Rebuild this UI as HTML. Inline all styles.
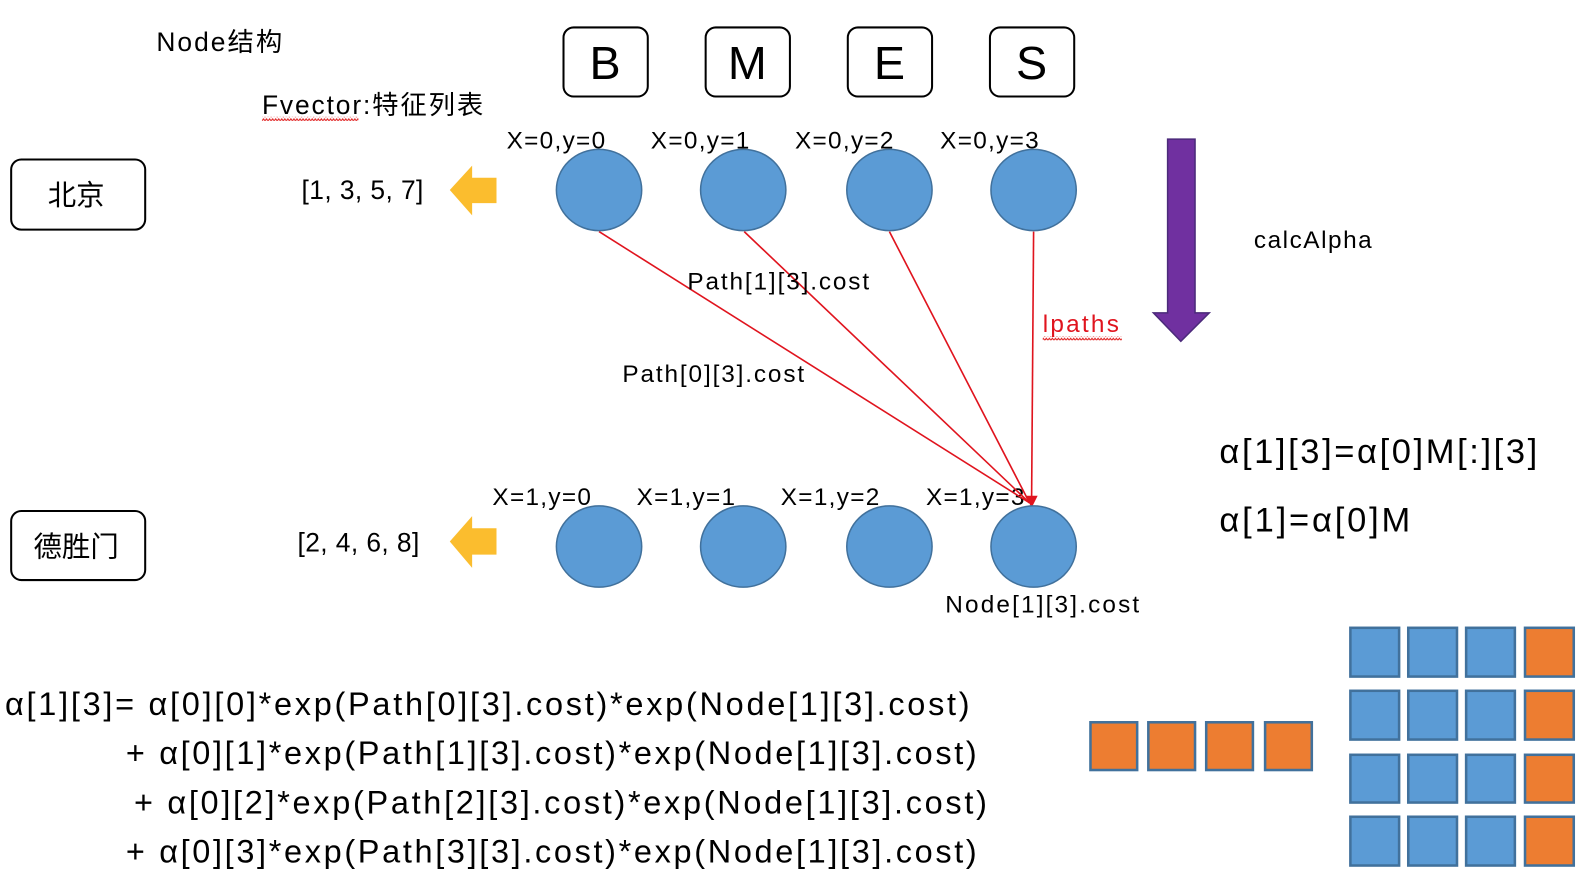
<!DOCTYPE html>
<html><head><meta charset="utf-8"><style>
html,body{margin:0;padding:0;background:#fff;}
svg{display:block;}
text{font-family:"Liberation Sans","Noto Sans CJK SC",sans-serif;fill:#000;}
</style></head><body>
<svg width="1590" height="896" viewBox="0 0 1566 882" preserveAspectRatio="none" xmlns="http://www.w3.org/2000/svg">
<defs>
<pattern id="wv" width="6" height="4" patternUnits="userSpaceOnUse"><path d="M0 3 L1.5 1 L3 3 L4.5 1 L6 3" stroke="#e02020" stroke-width="1" fill="none"/></pattern>
</defs>
<text x="154" y="50" font-size="26" textLength="124">Node结构</text>
<text x="258" y="112" font-size="26" textLength="218">Fvector:特征列表</text>
<rect x="258" y="115" width="95" height="4" fill="url(#wv)"/>

<g fill="#fff" stroke="#000" stroke-width="2">
<rect x="555" y="27" width="83" height="68" rx="10"/>
<rect x="695" y="27" width="83" height="68" rx="10"/>
<rect x="835" y="27" width="83" height="68" rx="10"/>
<rect x="975" y="27" width="83" height="68" rx="10"/>
<rect x="11" y="157" width="132" height="69" rx="10"/>
<rect x="11" y="503" width="132" height="68" rx="10"/>
</g>
<g font-size="46" text-anchor="middle">
<text x="596" y="78">B</text><text x="736" y="78">M</text><text x="876" y="78">E</text><text x="1016" y="78">S</text>
</g>
<text x="75" y="202" font-size="28" text-anchor="middle">北京</text>
<text x="75" y="548" font-size="28" text-anchor="middle">德胜门</text>

<g font-size="24">
<text x="499" y="146" textLength="97">X=0,y=0</text>
<text x="641" y="146" textLength="97">X=0,y=1</text>
<text x="783" y="146" textLength="97">X=0,y=2</text>
<text x="926" y="146" textLength="97">X=0,y=3</text>
<text x="485" y="497" textLength="97">X=1,y=0</text>
<text x="627" y="497" textLength="97">X=1,y=1</text>
<text x="769" y="497" textLength="97">X=1,y=2</text>
<text x="912" y="497" textLength="97">X=1,y=3</text>
</g>

<g stroke="#e0141e" stroke-width="1.6">
<line x1="590" y1="228" x2="1014" y2="495"/>
<line x1="733" y1="228" x2="1014" y2="495"/>
<line x1="876" y1="228" x2="1014" y2="495"/>
<line x1="1018" y1="228" x2="1016" y2="495"/>
</g>
<polygon points="1010,488 1022,488 1016,500" fill="#e0141e"/>

<g fill="#5b9bd5" stroke="#41719c" stroke-width="1.5">
<ellipse cx="590" cy="187" rx="42" ry="40"/><ellipse cx="732" cy="187" rx="42" ry="40"/>
<ellipse cx="876" cy="187" rx="42" ry="40"/><ellipse cx="1018" cy="187" rx="42" ry="40"/>
<ellipse cx="590" cy="538" rx="42" ry="40"/><ellipse cx="732" cy="538" rx="42" ry="40"/>
<ellipse cx="876" cy="538" rx="42" ry="40"/><ellipse cx="1018" cy="538" rx="42" ry="40"/>
</g>

<g fill="#fbbd2e">
<polygon points="443,187 465,163 465,175 489,175 489,200 465,200 465,212"/>
<polygon points="443,533 465,508 465,520 489,520 489,546 465,546 465,559"/>
</g>
<text x="297" y="196" font-size="26" textLength="120">[1, 3, 5, 7]</text>
<text x="293" y="543" font-size="26" textLength="120">[2, 4, 6, 8]</text>

<text x="677" y="285" font-size="24" textLength="179">Path[1][3].cost</text>
<text x="613" y="376" font-size="24" textLength="179">Path[0][3].cost</text>
<text x="1027" y="327" font-size="24" fill="#e0141e" style="fill:#e0141e" textLength="75">lpaths</text>
<rect x="1027" y="331" width="78" height="4" fill="url(#wv)"/>

<polygon points="1150,137 1177,137 1177,308 1191,308 1163,336 1136,308 1150,308" fill="#7030a0" stroke="#4b2a7a" stroke-width="1.5"/>
<text x="1235" y="244" font-size="24" textLength="116">calcAlpha</text>

<text x="1201" y="456" font-size="34" textLength="313">α[1][3]=α[0]M[:][3]</text>
<text x="1201" y="523" font-size="34" textLength="188">α[1]=α[0]M</text>
<text x="931" y="603" font-size="24" textLength="191">Node[1][3].cost</text>

<g font-size="32">
<text x="5" y="704" textLength="950">α[1][3]= α[0][0]*exp(Path[0][3].cost)*exp(Node[1][3].cost)</text>
<text x="124" y="752" textLength="838">+ α[0][1]*exp(Path[1][3].cost)*exp(Node[1][3].cost)</text>
<text x="132" y="801" textLength="840">+ α[0][2]*exp(Path[2][3].cost)*exp(Node[1][3].cost)</text>
<text x="124" y="849" textLength="838">+ α[0][3]*exp(Path[3][3].cost)*exp(Node[1][3].cost)</text>
</g>

<g stroke="#41719c" stroke-width="2.5">
<g fill="#ed7d31">
<rect x="1074" y="711" width="46" height="47"/><rect x="1131" y="711" width="46" height="47"/>
<rect x="1188" y="711" width="46" height="47"/><rect x="1246" y="711" width="46" height="47"/>
<rect x="1502" y="618" width="48" height="48"/><rect x="1502" y="680" width="48" height="48"/>
<rect x="1502" y="743" width="48" height="47"/><rect x="1502" y="804" width="48" height="48"/>
</g>
<g fill="#5b9bd5">
<rect x="1330" y="618" width="48" height="48"/><rect x="1387" y="618" width="48" height="48"/><rect x="1444" y="618" width="48" height="48"/>
<rect x="1330" y="680" width="48" height="48"/><rect x="1387" y="680" width="48" height="48"/><rect x="1444" y="680" width="48" height="48"/>
<rect x="1330" y="743" width="48" height="47"/><rect x="1387" y="743" width="48" height="47"/><rect x="1444" y="743" width="48" height="47"/>
<rect x="1330" y="804" width="48" height="48"/><rect x="1387" y="804" width="48" height="48"/><rect x="1444" y="804" width="48" height="48"/>
</g>
</g>
</svg>
</body></html>
